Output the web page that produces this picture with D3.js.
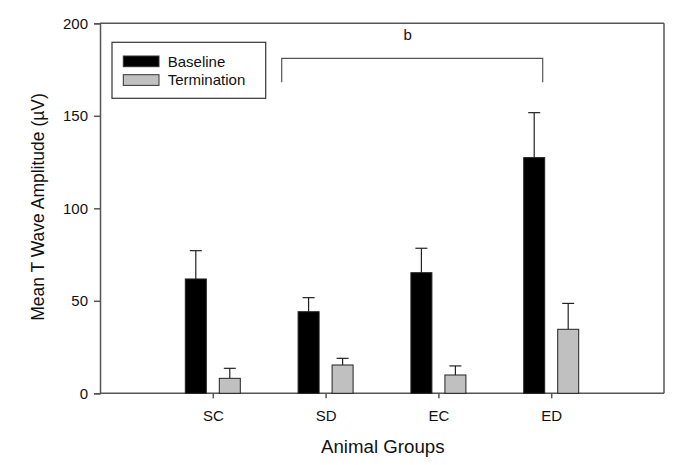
<!DOCTYPE html>
<html>
<head>
<meta charset="utf-8">
<script src="https://cdn.jsdelivr.net/npm/d3@7"></script>
<style>
  html, body { margin: 0; padding: 0; background: #fff; }
  svg { display: block; font-family: Arial, "Liberation Sans", sans-serif; }
</style>
</head>
<body>
<svg id="chart" width="685" height="465"></svg>
<script>
const categories = ["SC", "SD", "EC", "ED"];
const baseline = [61.8, 44.1, 65.2, 127.4];
const baselineErr = [15.3, 7.6, 13.2, 24.3];
const termination = [8.1, 15.3, 9.9, 34.6];
const terminationErr = [5.4, 3.6, 4.9, 14.0];
const yTicks = [0, 50, 100, 150, 200];
const seriesNames = ["Baseline", "Termination"];
const seriesColors = ["#000000", "#c0c0c0"];

const svg = d3.select("#chart");
const pLeft = 100, pRight = 664, pTop = 23.3, pBottom = 393.3;

const x = d3.scaleLinear().domain([0, categories.length + 1]).range([pLeft, pRight]);
const y = d3.scaleLinear().domain([0, 200]).range([pBottom, pTop]);
const barW = 21, offset = 17;
const axisColor = "#555";

// frame top & right
svg.append("line").attr("x1", pLeft).attr("x2", pRight).attr("y1", pTop).attr("y2", pTop)
  .attr("stroke", axisColor).attr("stroke-width", 1.5);
svg.append("line").attr("x1", pRight).attr("x2", pRight).attr("y1", pTop).attr("y2", pBottom)
  .attr("stroke", axisColor).attr("stroke-width", 1.5);

// y axis
const yAxis = svg.append("g").attr("transform", `translate(${pLeft},0)`)
  .call(d3.axisLeft(y).tickValues(yTicks).tickSize(6).tickPadding(6));
yAxis.select(".domain").attr("stroke", axisColor).attr("stroke-width", 1.5);
yAxis.selectAll(".tick line").attr("stroke", axisColor).attr("stroke-width", 1.5);
yAxis.selectAll(".tick text").attr("font-size", 15).attr("fill", "#111")
  .attr("font-family", "Arial, 'Liberation Sans', sans-serif");

// x axis
const xAxis = svg.append("g").attr("transform", `translate(0,${pBottom})`)
  .call(d3.axisBottom(x).tickValues(categories.map((c, i) => i + 1))
    .tickFormat((d) => categories[d - 1]).tickSize(5).tickPadding(12));
xAxis.select(".domain").attr("stroke", axisColor).attr("stroke-width", 1.5)
  .attr("d", `M${pLeft},0H${pRight}`);
xAxis.selectAll(".tick line").attr("stroke", axisColor).attr("stroke-width", 1.5);
xAxis.selectAll(".tick text").attr("font-size", 15).attr("fill", "#111")
  .attr("font-family", "Arial, 'Liberation Sans', sans-serif");

// bars
const series = [
  { vals: baseline, errs: baselineErr, color: seriesColors[0], dx: -offset },
  { vals: termination, errs: terminationErr, color: seriesColors[1], dx: offset }
];
series.forEach((s) => {
  const g = svg.append("g");
  categories.forEach((c, i) => {
    const cx = x(i + 1) + s.dx;
    g.append("line").attr("x1", cx).attr("x2", cx)
      .attr("y1", y(s.vals[i])).attr("y2", y(s.vals[i] + s.errs[i]))
      .attr("stroke", "#222").attr("stroke-width", 1.2);
    g.append("line").attr("x1", cx - 6).attr("x2", cx + 6)
      .attr("y1", y(s.vals[i] + s.errs[i])).attr("y2", y(s.vals[i] + s.errs[i]))
      .attr("stroke", "#222").attr("stroke-width", 1.2);
    g.append("rect").attr("x", cx - barW / 2).attr("y", y(s.vals[i]))
      .attr("width", barW).attr("height", y(0) - y(s.vals[i]))
      .attr("fill", s.color).attr("stroke", "#222").attr("stroke-width", 1);
  });
});

// significance bracket
const bx1 = 281.7, bx2 = 542.7, by1 = 58.3, by2 = 82.3;
svg.append("path").attr("d", `M${bx1},${by2}V${by1}H${bx2}V${by2}`)
  .attr("fill", "none").attr("stroke", "#555").attr("stroke-width", 1.2);
svg.append("text").attr("x", 407.7).attr("y", 40).attr("text-anchor", "middle")
  .attr("font-size", 15).attr("fill", "#111").text("b");

// legend
const lg = svg.append("g");
lg.append("rect").attr("x", 112).attr("y", 42.3).attr("width", 153.7).attr("height", 56)
  .attr("fill", "#fff").attr("stroke", "#333").attr("stroke-width", 1.2);
seriesNames.forEach((n, i) => {
  const yy = 56 + i * 18.7;
  lg.append("rect").attr("x", 123.3).attr("y", yy).attr("width", 35.7).attr("height", 10.7)
    .attr("fill", seriesColors[i]).attr("stroke", "#333").attr("stroke-width", 1);
  lg.append("text").attr("x", 167.7).attr("y", yy + 10.7).attr("font-size", 15)
    .attr("fill", "#111").text(n);
});

// axis titles
svg.append("text").attr("x", 382.8).attr("y", 453).attr("text-anchor", "middle")
  .attr("font-size", 18.7).attr("fill", "#111").text("Animal Groups");
svg.append("text").attr("transform", "translate(44.2,207) rotate(-90)")
  .attr("text-anchor", "middle").attr("font-size", 17.5).attr("fill", "#111")
  .text("Mean T Wave Amplitude (µV)");
</script>
</body>
</html>
